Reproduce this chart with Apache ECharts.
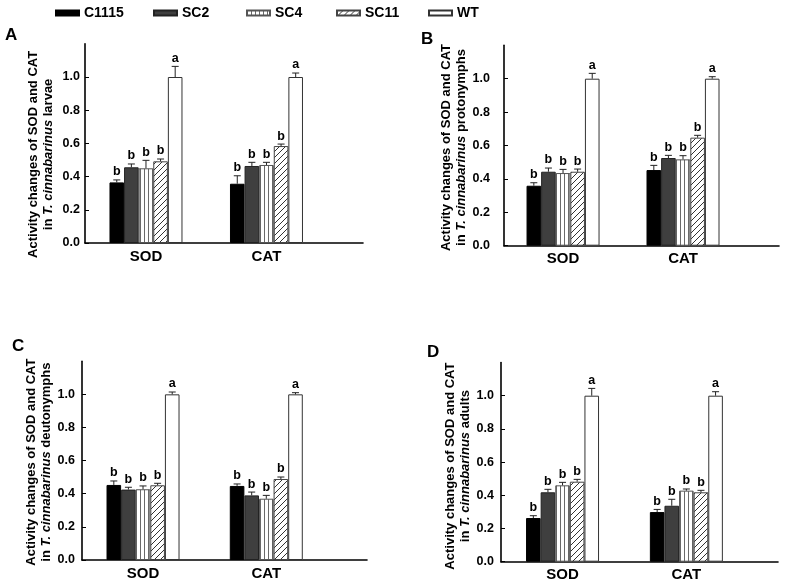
<!DOCTYPE html>
<html><head><meta charset="utf-8">
<script src="https://cdn.jsdelivr.net/npm/echarts@6/dist/echarts.min.js"></script>
<style>html,body{margin:0;padding:0;background:#fff}#c{width:787px;height:585px}</style>
</head><body><div id="c"></div>
<script>
// ---------------- data ----------------
const categories = ['SOD', 'CAT'];
const groups = ['C1115', 'SC2', 'SC4', 'SC11', 'WT'];
const yTickValues = [0, 0.2, 0.4, 0.6, 0.8, 1.0];
const panelLetters = ['A', 'B', 'C', 'D'];
const stages = ['larvae', 'protonymphs', 'deutonymphs', 'adults'];
const sigLetters = ['b', 'b', 'b', 'b', 'a'];   // per group, both enzymes

// means per group: [SOD, CAT]
const larvaeMean = [[0.365, 0.357], [0.456, 0.464], [0.450, 0.470], [0.492, 0.584], [1.0, 1.0]];
const larvaeErr  = [[0.015, 0.048], [0.020, 0.022], [0.048, 0.016], [0.014, 0.012], [0.064, 0.024]];
const protoMean  = [[0.359, 0.453], [0.443, 0.525], [0.435, 0.517], [0.443, 0.647], [1.0, 1.0]];
const protoErr   = [[0.018, 0.028], [0.022, 0.016], [0.022, 0.022], [0.016, 0.014], [0.032, 0.012]];
const deutoMean  = [[0.453, 0.447], [0.425, 0.390], [0.427, 0.370], [0.451, 0.489], [1.0, 1.0]];
const deutoErr   = [[0.024, 0.012], [0.014, 0.020], [0.020, 0.020], [0.012, 0.012], [0.014, 0.010]];
const adultMean  = [[0.263, 0.299], [0.418, 0.337], [0.460, 0.428], [0.482, 0.418], [1.0, 1.0]];
const adultErr   = [[0.014, 0.016], [0.018, 0.039], [0.018, 0.010], [0.014, 0.012], [0.044, 0.024]];

const panelMeans = [larvaeMean, protoMean, deutoMean, adultMean];
const panelErrs  = [larvaeErr, protoErr, deutoErr, adultErr];

// ---------------- layout / style ----------------
const FONT = '"Liberation Sans", Arial, Helvetica, sans-serif';
const NARROW = '"Liberation Sans Narrow", "Liberation Sans", Arial, sans-serif';
const BAR_W = 14.6;
const layout = [
  {left: 85,  right: 424, top: 43.8,  bottom: 342,   xmin: 0.494, xmax: 2.801, lblMargin: 5,  nameGap: 29, shift: 22, tl: [5, 27]},
  {left: 504, right: 8,   top: 45.3,  bottom: 339.3, xmin: 0.508, xmax: 2.800, lblMargin: 14, nameGap: 27, shift: 4,  tl: [421, 31]},
  {left: 82,  right: 420, top: 361.2, bottom: 25,    xmin: 0.505, xmax: 2.817, lblMargin: 7,  nameGap: 28, shift: 3,  tl: [12, 338]},
  {left: 501, right: 9,   top: 362.5, bottom: 23.3,  xmin: 0.503, xmax: 2.740, lblMargin: 7,  nameGap: 25, shift: 8,  tl: [427, 344]}
];

function stripeCanvas() {
  const c = document.createElement('canvas'); c.width = 4; c.height = 4;
  const g = c.getContext('2d');
  g.fillStyle = '#fff'; g.fillRect(0, 0, 4, 4);
  g.fillStyle = '#6a6a6a'; g.fillRect(0, 0, 1, 4);
  return c;
}
function hatchCanvas() {
  const s = 6; const c = document.createElement('canvas'); c.width = s; c.height = s;
  const g = c.getContext('2d');
  g.fillStyle = '#fff'; g.fillRect(0, 0, s, s);
  g.strokeStyle = '#333'; g.lineWidth = 1;
  g.beginPath();
  g.moveTo(0, s); g.lineTo(s, 0);
  g.moveTo(-1, 1); g.lineTo(1, -1);
  g.moveTo(s - 1, s + 1); g.lineTo(s + 1, s - 1);
  g.stroke();
  return c;
}
const groupColors = [
  '#000000',
  '#3f3f3f',
  {image: stripeCanvas(), repeat: 'repeat'},
  {image: hatchCanvas(), repeat: 'repeat'},
  '#ffffff'
];
const groupBorders = ['#000', '#222', '#555', '#444', '#333'];

// ---------------- build option ----------------
const grids = [], xAxes = [], yAxes = [], series = [], titles = [];
layout.forEach((L, p) => {
  grids.push({left: L.left, right: L.right, top: L.top, bottom: L.bottom, containLabel: false, outerBoundsMode: 'none'});
  xAxes.push({
    type: 'value', gridIndex: p, min: L.xmin, max: L.xmax,
    axisLine: {show: true, onZero: false, lineStyle: {color: '#000', width: 1.6}},
    axisTick: {show: false}, splitLine: {show: false},
    axisLabel: {customValues: [1, 2], formatter: v => categories[Math.round(v) - 1] || '',
      color: '#000', fontFamily: FONT, fontWeight: 'bold', fontSize: 15, margin: 6}
  });
  yAxes.push({
    type: 'value', gridIndex: p, min: 0, max: 1.2, interval: 0.2,
    name: 'Activity changes of SOD and CAT\nin {i|T. cinnabarinus} ' + stages[p],
    nameLocation: 'middle', nameRotate: 90, nameGap: L.nameGap,
    nameTextStyle: {color: '#000', fontFamily: FONT, fontWeight: 'bold', fontSize: 13, lineHeight: 15,
      align: 'center', padding: [0, L.shift, 0, 0],
      rich: {i: {fontStyle: 'italic', fontWeight: 'bold', fontSize: 13, fontFamily: FONT, color: '#000'}}},
    axisLine: {show: true, lineStyle: {color: '#000', width: 1.6}},
    axisTick: {show: true, inside: true, length: 4, customValues: yTickValues, lineStyle: {color: '#000', width: 1}},
    axisLabel: {customValues: yTickValues, formatter: v => v.toFixed(1), color: '#000', fontFamily: FONT,
      fontWeight: 'bold', fontSize: 12.5, margin: L.lblMargin},
    splitLine: {show: false}
  });
  titles.push({text: panelLetters[p], left: L.tl[0], top: L.tl[1], padding: 0,
    textStyle: {fontFamily: FONT, fontWeight: 'bold', fontSize: 17, color: '#000'}});

  const means = panelMeans[p], errs = panelErrs[p];
  const errData = [];
  groups.forEach((g, k) => {
    series.push({
      type: 'bar', name: g, xAxisIndex: p, yAxisIndex: p,
      barWidth: BAR_W, barGap: '0%',
      data: categories.map((c, ci) => [ci + 1, means[k][ci]]),
      itemStyle: {color: groupColors[k], borderColor: groupBorders[k], borderWidth: 1},
      emphasis: {disabled: true}, silent: true
    });
    categories.forEach((c, ci) => errData.push([ci + 1, means[k][ci], means[k][ci] + errs[k][ci], k]));
  });
  series.push({
    type: 'custom', xAxisIndex: p, yAxisIndex: p, silent: true, z: 5,
    data: errData,
    renderItem: function (params, api) {
      const x = api.value(0), m = api.value(1), t = api.value(2), k = api.value(3);
      const base = api.coord([x, m]), top = api.coord([x, t]);
      const cx = base[0] + (k - 2) * BAR_W;
      return {type: 'group', children: [
        {type: 'line', shape: {x1: cx, y1: base[1], x2: cx, y2: top[1]}, style: {stroke: '#222', lineWidth: 1}},
        {type: 'line', shape: {x1: cx - 3.5, y1: top[1], x2: cx + 3.5, y2: top[1]}, style: {stroke: '#222', lineWidth: 1}},
        {type: 'text', x: cx, y: top[1] - 1.5, style: {text: sigLetters[k], fill: '#000',
          font: 'bold 12.5px ' + FONT, align: 'center', verticalAlign: 'bottom'}}
      ]};
    }
  });
});

const legendX = [55, 153, 246, 336, 428];
const legends = groups.map((g, k) => ({
  data: [{name: g, icon: 'rect'}], left: legendX[k], top: 6, padding: 0, itemWidth: 23, itemHeight: 5, itemGap: 5,
  selectedMode: false,
  textStyle: {fontFamily: NARROW, fontWeight: 'bold', fontSize: 14, color: '#000', padding: [0, 0, 0, 0]}
}));

const chart = echarts.init(document.getElementById('c'), null, {renderer: 'canvas'});
chart.setOption({
  animation: false,
  backgroundColor: '#fff',
  title: titles,
  legend: legends,
  grid: grids,
  xAxis: xAxes,
  yAxis: yAxes,
  series: series
});
</script>
</body></html>
